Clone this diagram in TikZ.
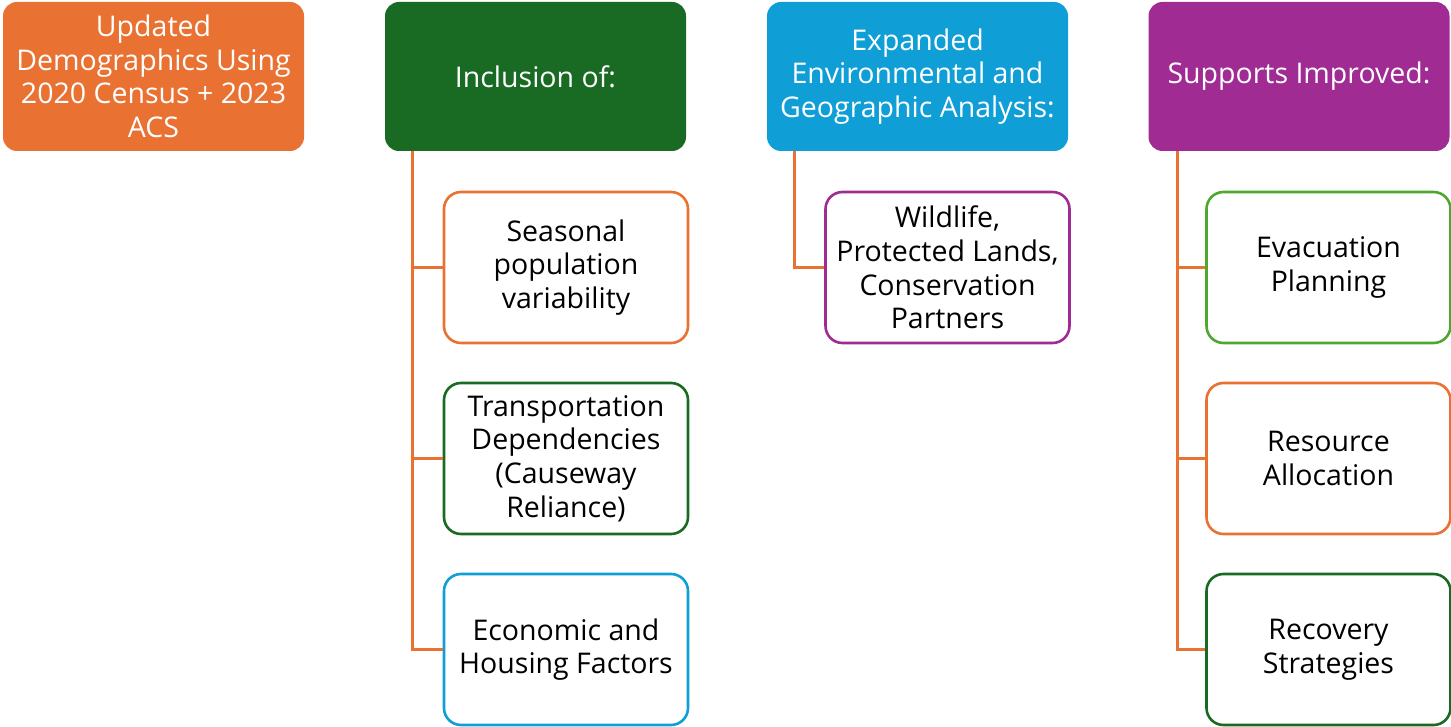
\documentclass[tikz,border=0pt]{standalone}
\usepackage{fontspec}
\setmainfont{Open Sans}
\definecolor{corange}{HTML}{E97132}
\definecolor{cdgreen}{HTML}{196B24}
\definecolor{cblue}{HTML}{0F9ED5}
\definecolor{cpurple}{HTML}{A02B93}
\definecolor{clgreen}{HTML}{4EA72E}
\tikzset{
  parent/.style={fill=#1, draw=none, rounded corners=14pt, minimum width=301pt, minimum height=149pt,
    text=white, align=center, inner sep=0pt, font=\fontsize{28.5}{33.6}\selectfont},
  child/.style={draw=#1, line width=2.6pt, fill=white, rounded corners=17pt, minimum width=244pt, minimum height=151pt,
    text=black, align=center, inner sep=0pt, font=\fontsize{28.5}{33.8}\selectfont},
  conn/.style={draw=corange, line width=2.8pt}
}
\begin{document}
\begin{tikzpicture}[x=1pt,y=-1pt]
\useasboundingbox (0,0) rectangle (1451,727);
% parents
\node[parent=corange] (p1) at (153.5,76.5) {Updated\\Demographics Using\\2020 Census + 2023\\ACS};
\node[parent=cdgreen] (p2) at (535.5,76.5) {Inclusion of:};
\node[parent=cblue] (p3) at (917.5,76.5) {Expanded\\Environmental and\\Geographic Analysis:};
\node[parent=cpurple] (p4) at (1299,76.5) {Supports Improved:};
% connector anchors
\coordinate (a2) at ([xshift=28pt]p2.south west);
\coordinate (a3) at ([xshift=28pt]p3.south west);
\coordinate (a4) at ([xshift=29pt]p4.south west);
% children column 2
\node[child=corange] (c21) at (566,267.5) {Seasonal\\population\\variability};
\node[child=cdgreen] (c22) at (566,458.5) {Transportation\\Dependencies\\(Causeway\\Reliance)};
\node[child=cblue] (c23) at (566,649.5) {Economic and\\Housing Factors};
% column 3
\node[child=cpurple] (c31) at (947.5,267.5) {Wildlife,\\Protected Lands,\\Conservation\\Partners};
% column 4
\node[child=clgreen] (c41) at (1328.5,267.5) {Evacuation\\Planning};
\node[child=corange] (c42) at (1328.5,458.5) {Resource\\Allocation};
\node[child=cdgreen] (c43) at (1328.5,649.5) {Recovery\\Strategies};
% connectors
\draw[conn] (a2) |- (c21.west);
\draw[conn] (a2) |- (c22.west);
\draw[conn] (a2) |- (c23.west);
\draw[conn] (a3) |- (c31.west);
\draw[conn] (a4) |- (c41.west);
\draw[conn] (a4) |- (c42.west);
\draw[conn] (a4) |- (c43.west);
\end{tikzpicture}
\end{document}
